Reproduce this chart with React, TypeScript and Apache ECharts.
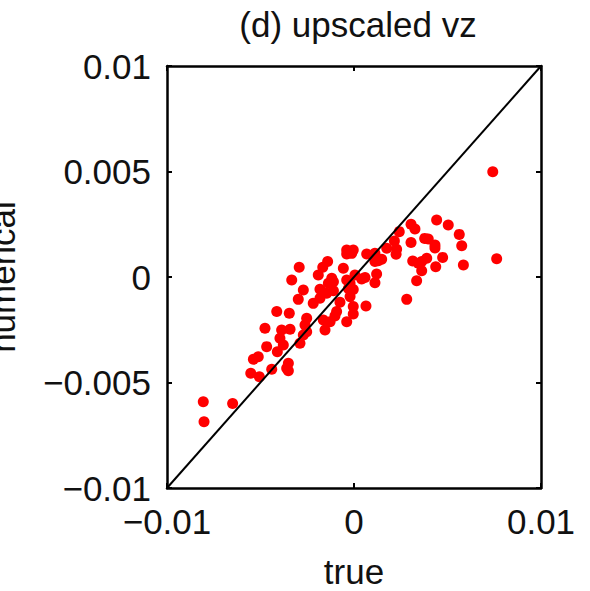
import React, { useEffect, useRef } from "react";
import * as echarts from "echarts";

// true values (x) and numerical values (y), in units of 1e-3
const trueVals = [
  7.42, 7.63, 4.42, 5.04, 5.63, 5.76, 5.85, 3.78, 3.97, 4.33, 4.33, 3.89, 4.74, 4.37, 3.62, 3.62,
  3.05, 3.26, 2.42, 3.05, 2.16, 1.75, 2.28, 2.25, 3.14, 3.44, 3.35, 2.82,
  -0.39, -0.04, -0.39, -0.12, 0.68, 1.12, 1.30, 1.48, 1.12, -0.57, 0.05, 0.59, 0.41, 1.21, 1.12,
  -0.39, -0.30, -0.04, -0.75, -0.04, 0.64,
  -2.93, -1.41, -1.67, -3.33, -1.91, -1.19, -1.10, -1.37, -1.82, -1.46, -1.82, -2.71, -2.98, -2.18,
  -0.21, -4.13, -3.46, -0.93, -1.02, -2.53, -2.62, -1.64, -1.28, -0.39, -0.04, -1.55,
  -4.76, -3.87, -3.42, -3.96, -2.71, -4.67, -8.06, -8.02, -6.49, -5.52, -5.06, -5.38, -5.12,
  -4.40, -4.10, -3.51, -3.51, -3.60, -3.78, -2.89, -2.53, -1.10, -0.21,
];
const numericalVals = [
  4.99, 0.87, 2.70, 2.46, 2.02, 1.48, 0.57, 1.83, 1.80, 1.52, 1.37, 0.89, 0.93, 0.49, 0.73, 0.30,
  2.50, 2.27, 2.15, 1.63, 1.71, 1.36, 1.31, 1.08, 0.76, 0.65, -0.18, -1.06,
  1.28, 1.28, 1.09, 1.12, 1.09, 1.12, 0.77, 0.84, 0.73, 0.41, 0.09, -0.02, -0.09, 0.14, -0.27,
  -0.14, -0.54, -0.59, -1.20, -1.40, -1.37,
  0.46, 0.73, 0.46, -0.14, 0.09, -0.06, -0.22, -0.30, -0.58, -0.77, -1.01, -0.62, -1.06, -1.25,
  -0.30, -1.64, -1.72, -1.64, -1.85, -1.96, -2.27, -2.04, -2.12, -2.12, -1.75, -2.51,
  -2.43, -2.51, -2.48, -2.90, -2.75, -3.30, -5.91, -6.86, -5.99, -4.56, -4.73, -3.90, -3.78,
  -4.37, -3.54, -4.09, -4.44, -4.33, -3.22, -3.14, -2.59, -0.65, -0.93,
];
const diagonal = [-0.01, 0.01];
const xTicks = { min: -0.01, max: 0.01, interval: 0.01 };
const yTicks = { min: -0.01, max: 0.01, interval: 0.005 };

const FONT = "'Liberation Sans', Arial, sans-serif";
const FS = 35;
const fmt = (v: number) => (Math.abs(v) < 1e-12 ? "0" : String(+v.toFixed(4)).replace("-", "\u2212"));

export default function App() {
  const ref = useRef<HTMLDivElement>(null);
  useEffect(() => {
    if (!ref.current) return;
    const chart = echarts.init(ref.current, undefined, { renderer: "svg" });
    const points = trueVals.map((x, i) => [x / 1000, numericalVals[i] / 1000]);
    const axisCommon = {
      type: "value" as const,
      axisLine: { show: true, onZero: false, lineStyle: { color: "#000", width: 2.5 } },
      axisTick: { show: true, inside: true, length: 5, lineStyle: { color: "#000", width: 2 } },
      splitLine: { show: false },
    };
    chart.setOption({
      animation: false,
      backgroundColor: "#fff",
      title: {
        text: "(d) upscaled vz",
        left: 353,
        textAlign: "center",
        top: 2,
        textStyle: { fontFamily: FONT, fontSize: FS, fontWeight: "normal", color: "#111" },
      },
      grid: { left: 167, right: 49, top: 66, bottom: 103, containLabel: false, outerBoundsMode: "none" },
      xAxis: [
        {
          ...axisCommon,
          position: "bottom",
          ...xTicks,
          name: "true",
          nameLocation: "middle",
          nameGap: 66,
          nameTextStyle: { fontFamily: FONT, fontSize: FS, color: "#111" },
          axisLabel: { fontFamily: FONT, fontSize: FS, color: "#111", margin: 16, formatter: fmt },
        },
        {
          ...axisCommon,
          position: "top",
          ...xTicks,
          axisLabel: { show: false },
        },
      ],
      yAxis: [
        {
          ...axisCommon,
          position: "left",
          ...yTicks,
          name: "numerical",
          nameLocation: "middle",
          nameGap: 147,
          nameTextStyle: { fontFamily: FONT, fontSize: FS, color: "#111" },
          axisLabel: { fontFamily: FONT, fontSize: FS, color: "#111", margin: 16, formatter: fmt },
        },
        {
          ...axisCommon,
          position: "right",
          ...yTicks,
          axisLabel: { show: false },
        },
      ],
      series: [
        {
          type: "scatter",
          xAxisIndex: 0,
          yAxisIndex: 0,
          data: points,
          symbol: "circle",
          symbolSize: 11,
          itemStyle: { color: "#ff0000", opacity: 1 },
          z: 2,
        },
        {
          type: "line",
          xAxisIndex: 0,
          yAxisIndex: 0,
          data: diagonal.map((v) => [v, v]),
          showSymbol: false,
          lineStyle: { color: "#000", width: 2 },
          z: 3,
        },
      ],
    });
    return () => chart.dispose();
  }, []);
  return <div ref={ref} style={{ position: "fixed", left: 0, top: 0, width: 590, height: 591 }} />;
}
